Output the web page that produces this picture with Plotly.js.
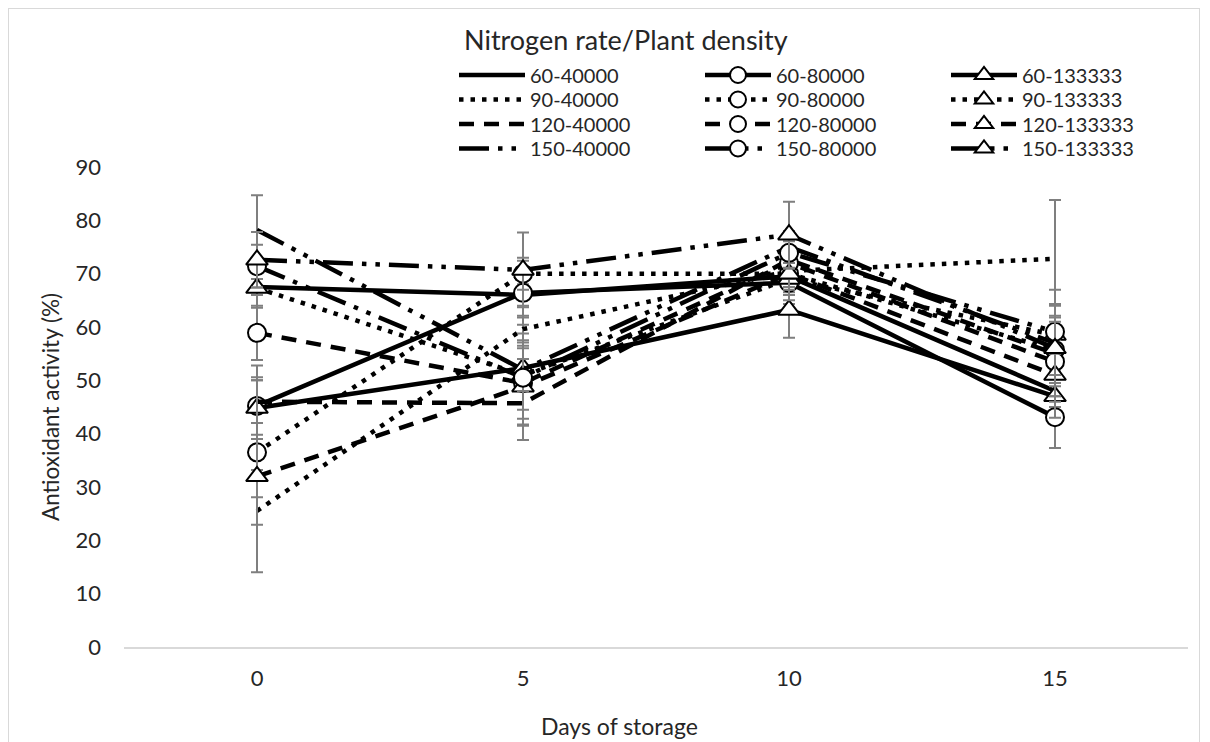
<!DOCTYPE html>
<html>
<head>
<meta charset="utf-8">
<script src="https://cdn.plot.ly/plotly-3.0.1.min.js"></script>
<style>
  html, body { margin:0; padding:0; background:#ffffff; }
  #chart { position:absolute; left:0; top:0; width:1210px; height:742px; }
  #frame { position:absolute; left:8px; top:8px; width:1192px; height:760px;
           border:1.5px solid #d9d9d9; pointer-events:none; box-sizing:border-box; }
</style>
</head>
<body>
<div id="chart"></div>
<div id="frame"></div>
<script>
// ---------- data ----------
const days = ['0', '5', '10', '15'];

const nitrogenRates = ['60', '90', '120', '150'];
const plantDensities = ['40000', '80000', '133333'];

// antioxidant activity (%) for each nitrogen rate / plant density
const n60_d40000  = [67.5, 66.0, 69.5, 48.0];
const n60_d80000  = [45.2, 66.4, 68.3, 43.1];
const n60_d133333 = [44.8, 52.3, 63.2, 47.0];

const n90_d40000  = [25.5, 59.6, 70.5, 72.8];
const n90_d80000  = [36.5, 70.0, 70.0, 55.7];
const n90_d133333 = [67.3, 51.0, 69.0, 58.5];

const n120_d40000  = [46.0, 45.7, 72.6, 55.0];
const n120_d80000  = [58.9, 49.5, 72.0, 53.5];
const n120_d133333 = [32.0, 48.8, 70.0, 51.0];

const n150_d40000  = [78.2, 52.0, 75.0, 57.0];
const n150_d80000  = [71.4, 50.5, 73.9, 59.1];
const n150_d133333 = [72.6, 70.7, 77.3, 56.0];

// error bars (±)
const e60_d40000  = [1.5, 2.0, 3.0, 3.0];
const e60_d80000  = [7.6, 6.0, 4.0, 5.8];
const e60_d133333 = [5.8, 9.5, 5.2, 4.0];
const e90_d40000  = [2.6, 2.5, 3.0, 11.0];
const e90_d80000  = [3.3, 3.0, 3.0, 4.0];
const e90_d133333 = [3.7, 3.0, 4.0, 5.8];
const e120_d40000  = [4.0, 4.0, 3.5, 9.0];
const e120_d80000  = [5.1, 8.0, 3.0, 4.0];
const e120_d133333 = [18.0, 10.0, 4.0, 4.0];
const e150_d40000  = [6.5, 4.0, 3.0, 10.0];
const e150_d80000  = [4.0, 6.0, 3.0, 3.0];
const e150_d133333 = [5.2, 7.0, 6.2, 5.0];

const seriesValues = [
  [n60_d40000, n60_d80000, n60_d133333],
  [n90_d40000, n90_d80000, n90_d133333],
  [n120_d40000, n120_d80000, n120_d133333],
  [n150_d40000, n150_d80000, n150_d133333]
];
const seriesErrors = [
  [e60_d40000, e60_d80000, e60_d133333],
  [e90_d40000, e90_d80000, e90_d133333],
  [e120_d40000, e120_d80000, e120_d133333],
  [e150_d40000, e150_d80000, e150_d133333]
];

// ---------- styles ----------
const FONT = 'Lato, "Open Sans", sans-serif';
const TXT = '#262626';
const dashByRate = ['solid', '4.5px,7px', '15px,10px', '30px,9px,4.5px,9px,4.5px,9px'];
const markerByDensity = [null, 'circle', 'triangle-up'];

// plot geometry helpers (margins)
const M = {l:124, r:22, t:167, b:95};
const W = 1210, H = 742;
const PW = W - M.l - M.r, PH = H - M.t - M.b;
const px2x = p => (p - M.l) / PW;
const py2y = p => (H - M.b - p) / PH;

const legendNames = ['legend', 'legend2', 'legend3', 'legend4'];
const rowCenters = [75, 99.5, 124, 148.5];

const traces = [];
nitrogenRates.forEach((rate, i) => {
  plantDensities.forEach((dens, j) => {
    const m = markerByDensity[j];
    const tr = {
      type: 'scatter',
      x: days,
      y: seriesValues[i][j],
      name: rate + '-' + dens,
      legend: legendNames[i],
      mode: m ? 'lines+markers' : 'lines',
      line: {color: '#000000', width: 4.5, dash: dashByRate[i]},
      error_y: {type: 'data', array: seriesErrors[i][j], visible: true,
                color: '#7f7f7f', thickness: 2, width: 6},
      hoverinfo: 'name+y'
    };
    if (m) {
      tr.marker = {symbol: m, size: m === 'circle' ? 18 : 19, color: '#ffffff',
                   line: {color: '#000000', width: 2}};
    }
    traces.push(tr);
  });
});

const layout = {
  width: W, height: H,
  margin: {l: M.l, r: M.r, t: M.t, b: M.b, autoexpand: false},
  paper_bgcolor: '#ffffff',
  plot_bgcolor: '#ffffff',
  font: {family: FONT, size: 22, color: TXT},
  showlegend: true,
  xaxis: {
    type: 'category',
    range: [-0.5, 3.5],
    showgrid: false, zeroline: false,
    showline: true, linecolor: '#d9d9d9', linewidth: 1.5,
    ticks: '', ticklabelstandoff: 11,
    tickfont: {family: FONT, size: 22, color: TXT},
    fixedrange: true
  },
  yaxis: {
    range: [0, 90],
    dtick: 10, tick0: 0,
    showgrid: false, zeroline: false, showline: false,
    ticks: '', ticklabelstandoff: 22,
    tickfont: {family: FONT, size: 22, color: TXT},
    title: {text: 'Antioxidant activity (%)', standoff: 9,
            font: {family: FONT, size: 22.5, color: TXT}},
    fixedrange: true
  },
  annotations: [
    {text: 'Nitrogen rate/Plant density', xref: 'paper', yref: 'paper',
     x: px2x(462), y: py2y(39), xanchor: 'left', yanchor: 'middle',
     showarrow: false, font: {family: FONT, size: 27, color: TXT}},
    {text: 'Days of storage', xref: 'paper', yref: 'paper',
     x: px2x(619), y: py2y(726), xanchor: 'center', yanchor: 'middle',
     showarrow: false, font: {family: FONT, size: 23, color: TXT}}
  ]
};

legendNames.forEach((ln, i) => {
  layout[ln] = {
    orientation: 'h',
    x: px2x(454), xanchor: 'left',
    y: py2y(rowCenters[i]), yanchor: 'middle',
    entrywidth: 165, entrywidthmode: 'pixels',
    itemwidth: 66,
    bgcolor: 'rgba(0,0,0,0)', borderwidth: 0,
    font: {family: FONT, size: 20, color: TXT},
    traceorder: 'normal',
    itemclick: false, itemdoubleclick: false
  };
});

Plotly.newPlot('chart', traces, layout, {displayModeBar: false, staticPlot: true});
</script>
</body>
</html>
